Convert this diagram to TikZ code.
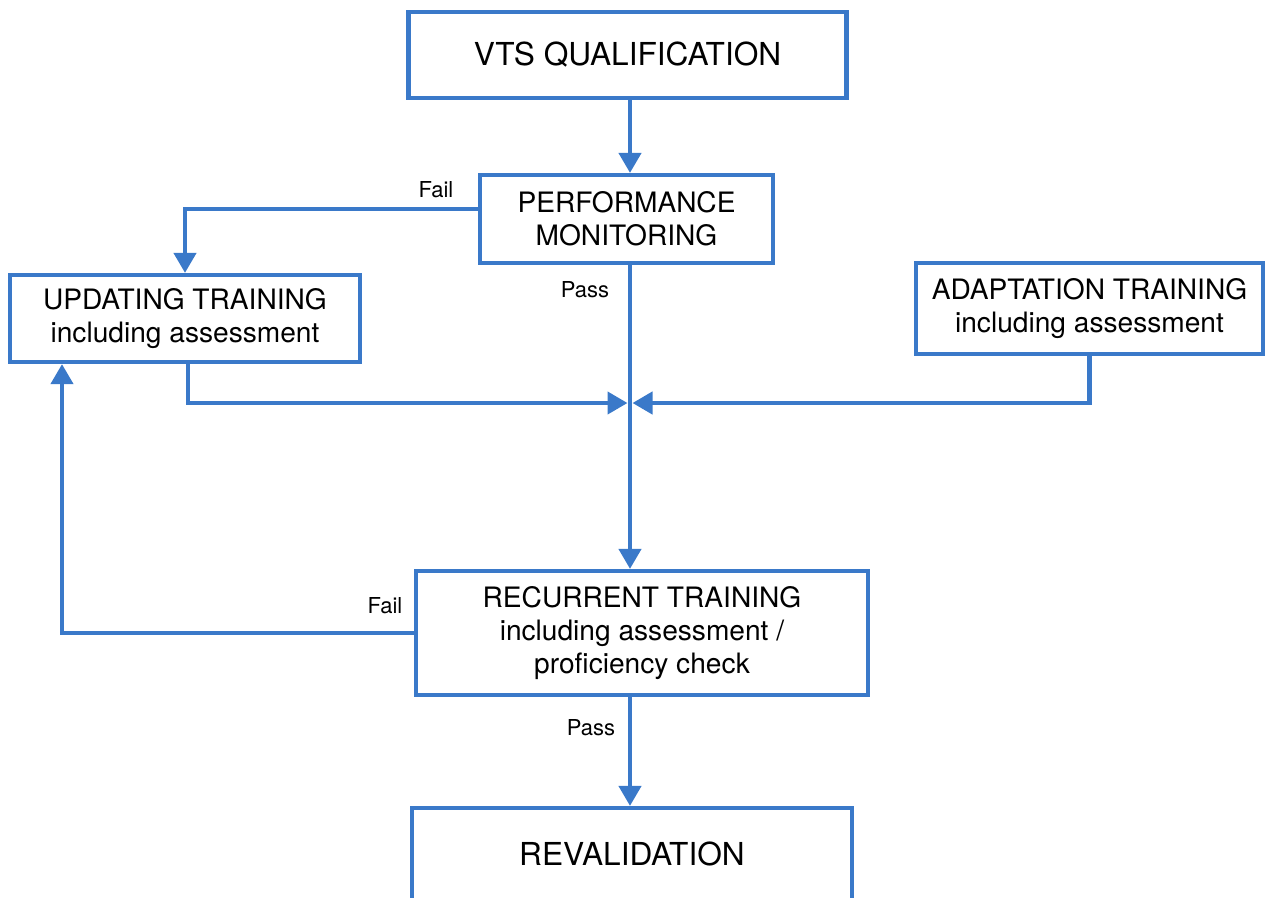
\documentclass[tikz,border=0pt]{standalone}
\usepackage{fontspec}
\setmainfont{TeX Gyre Heros}
\usepackage{tikz}
\usetikzlibrary{positioning,calc,arrows.meta,shadows}
\definecolor{flowblue}{RGB}{58,121,201}
\tikzset{
  box/.style args={#1,#2}{
    rectangle,
    draw=flowblue,
    line width=2.4pt,
    fill=white,
    drop shadow={shadow xshift=0.8pt,shadow yshift=-0.8pt,opacity=0.25},
    align=center,
    minimum width=#1 cm,
    minimum height=#2 cm,
    font=\fontsize{16}{19}\selectfont
  },
  bigbox/.style args={#1,#2}{box={#1,#2},font=\fontsize{18}{21}\selectfont},
  flow/.style={draw=flowblue,line width=2.4pt,-{Triangle[length=0.4cm,width=0.44cm]}},
  lbl/.style={font=\fontsize{12.5}{14}\selectfont,inner sep=0pt}
}
\begin{document}
\begin{tikzpicture}
  \useasboundingbox (0,0) rectangle (25.3,-17.94);

  \node [bigbox={8.76,1.72}] (vts) at (12.55,-1.1) {VTS QUALIFICATION};
  \node [box={5.86,1.76}] (pm) at (12.53,-4.38) {PERFORMANCE\\MONITORING};
  \node [box={7.0,1.74}] (upd) at (3.7,-6.37) {UPDATING TRAINING\\including assessment};
  \node [box={6.94,1.82}] (adp) at (21.79,-6.17) {ADAPTATION TRAINING\\including assessment};
  \node [box={9.04,2.48}] (rec) at (12.84,-12.66) {RECURRENT TRAINING\\including assessment /\\proficiency check};
  \node [bigbox={8.8,1.84}] (rev) at (12.64,-17.08) {REVALIDATION};

  \coordinate (j) at (12.6,-8.06);
  \coordinate (lft) at (1.24,-12.7);

  \draw [flow] (vts.south -| j) -- (pm.north -| j);
  \draw [flow] ([yshift=0.2cm]pm.west) -| (upd.north);
  \draw [flow] (pm.south -| j) -- (rec.north -| j);
  \draw [flow] ([xshift=0.06cm]upd.south) |- ([xshift=-0.05cm]j);
  \draw [flow] (adp.south) |- ([xshift=0.05cm]j);
  \draw [flow] (rec.west) -| (lft |- upd.south);
  \draw [flow] (rec.south -| j) -- (rev.north -| j);

  \node [lbl] (fail1) at (8.72,-3.79) {Fail};
  \node [lbl] (pass1) at (11.7,-5.8) {Pass};
  \node [lbl] (fail2) at (7.7,-12.12) {Fail};
  \node [lbl] (pass2) at (11.82,-14.56) {Pass};
\end{tikzpicture}
\end{document}
